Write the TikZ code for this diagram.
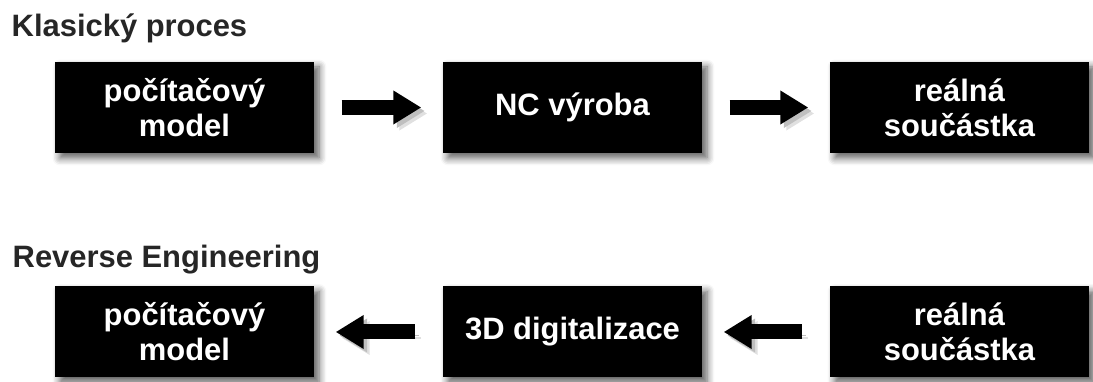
\documentclass[tikz,border=0pt]{standalone}
\usepackage{fontspec}
\setmainfont{Liberation Sans}
\usetikzlibrary{arrows.meta,shadows.blur}

\begin{document}
\begin{tikzpicture}[
  box/.style={fill=black, text=white, minimum width=2.59cm, minimum height=0.91cm, align=center, inner sep=0pt,
    font=\bfseries\fontsize{8.8}{10}\selectfont,
    blur shadow={shadow xshift=0.05cm, shadow yshift=-0.05cm, shadow blur steps=6, shadow opacity=65}},
  title/.style={anchor=base west, inner sep=0pt, text=black!85, font=\bfseries\fontsize{8.8}{10}\selectfont},
  flow/.style={line width=0.15cm, -{Triangle[length=0.28cm, width=0.32cm]}, shorten <=0.27cm, shorten >=0.21cm,
    preaction={draw=black!12, transform canvas={shift={(0.06,-0.06)}}},
    preaction={draw=black!25, transform canvas={shift={(0.035,-0.035)}}}}
]
\useasboundingbox (0,0) rectangle (10.93,-3.82);

\node (T-1) at (0.11,-0.37) [title]{Klasický proces};

\node (K-1) at (1.845,-1.075) [box]{počítačový\\model};
\node (K-2) at (5.725,-1.075) [box]{NC výroba};
\node (K-3) at (9.595,-1.075) [box]{reálná\\součástka};

\draw [flow] (K-1) -- (K-2);
\draw [flow] (K-2) -- (K-3);

\node (T-2) at (0.12,-2.68) [title]{Reverse Engineering};

\node (R-1) at (1.845,-3.32) [box]{počítačový\\model};
\node (R-2) at (5.725,-3.32) [box]{3D digitalizace};
\node (R-3) at (9.595,-3.32) [box]{reálná\\součástka};

\draw [flow] (R-3) -- (R-2);
\draw [flow] (R-2) -- (R-1);

\end{tikzpicture}
\end{document}
